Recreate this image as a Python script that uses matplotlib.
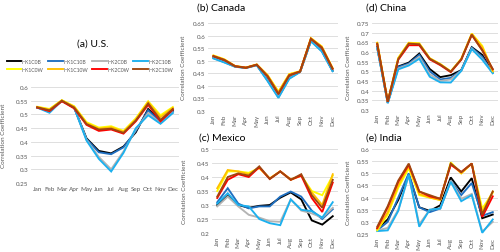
import numpy as np
import matplotlib.pyplot as plt
from matplotlib.ticker import FuncFormatter

plt.rcParams['font.family'] = ['Lato', 'DejaVu Sans']

months = ['Jan', 'Feb', 'Mar', 'Apr', 'May', 'Jun', 'Jul', 'Aug', 'Sep', 'Oct', 'Nov', 'Dec']
names = ['HK1C0B', 'HK1C10B', 'HK2C0B', 'HK2C10B', 'HK1C0W', 'HK1C10W', 'HK2C0W', 'HK2C10W']
colors = ['#000000', '#1F6FC0', '#B4B4B4', '#1CB0EE', '#FFFF00', '#FFC000', '#FF0000', '#A0460F']

# (a) U.S.
us = [
    [0.525, 0.515, 0.55, 0.525, 0.413, 0.367, 0.358, 0.383, 0.435, 0.52, 0.475, 0.513],
    [0.525, 0.512, 0.55, 0.525, 0.41, 0.362, 0.355, 0.38, 0.44, 0.515, 0.472, 0.51],
    [0.525, 0.51, 0.55, 0.525, 0.408, 0.345, 0.3, 0.365, 0.445, 0.505, 0.468, 0.507],
    [0.525, 0.506, 0.55, 0.525, 0.405, 0.338, 0.292, 0.36, 0.45, 0.497, 0.466, 0.505],
    [0.528, 0.52, 0.552, 0.53, 0.472, 0.452, 0.457, 0.44, 0.486, 0.548, 0.497, 0.527],
    [0.527, 0.518, 0.551, 0.528, 0.468, 0.448, 0.453, 0.437, 0.482, 0.545, 0.49, 0.524],
    [0.525, 0.512, 0.548, 0.522, 0.462, 0.44, 0.445, 0.43, 0.475, 0.535, 0.475, 0.518],
    [0.526, 0.515, 0.55, 0.525, 0.465, 0.445, 0.448, 0.433, 0.478, 0.54, 0.48, 0.52],
]

# (b) Canada
canada = [
    [0.512, 0.496, 0.477, 0.472, 0.483, 0.423, 0.357, 0.432, 0.456, 0.58, 0.54, 0.46],
    [0.511, 0.495, 0.477, 0.472, 0.483, 0.422, 0.356, 0.431, 0.456, 0.58, 0.54, 0.46],
    [0.51, 0.494, 0.476, 0.471, 0.482, 0.42, 0.354, 0.43, 0.455, 0.578, 0.538, 0.459],
    [0.509, 0.493, 0.476, 0.471, 0.482, 0.419, 0.352, 0.428, 0.455, 0.577, 0.537, 0.458],
    [0.521, 0.506, 0.479, 0.473, 0.485, 0.443, 0.377, 0.447, 0.458, 0.59, 0.557, 0.471],
    [0.52, 0.505, 0.479, 0.473, 0.485, 0.442, 0.375, 0.446, 0.458, 0.589, 0.556, 0.47],
    [0.518, 0.503, 0.478, 0.472, 0.484, 0.438, 0.368, 0.442, 0.457, 0.587, 0.552, 0.468],
    [0.518, 0.503, 0.478, 0.472, 0.484, 0.438, 0.368, 0.442, 0.457, 0.587, 0.552, 0.468],
]

# (d) China
china = [
    [0.625, 0.338, 0.525, 0.545, 0.592, 0.512, 0.47, 0.48, 0.506, 0.625, 0.585, 0.495],
    [0.624, 0.337, 0.522, 0.54, 0.585, 0.5, 0.458, 0.466, 0.505, 0.622, 0.575, 0.493],
    [0.622, 0.336, 0.515, 0.535, 0.575, 0.485, 0.45, 0.458, 0.503, 0.618, 0.565, 0.492],
    [0.62, 0.335, 0.51, 0.53, 0.565, 0.472, 0.443, 0.442, 0.502, 0.615, 0.56, 0.49],
    [0.648, 0.345, 0.57, 0.648, 0.645, 0.568, 0.538, 0.5, 0.565, 0.695, 0.632, 0.5],
    [0.647, 0.344, 0.568, 0.647, 0.643, 0.567, 0.537, 0.499, 0.563, 0.694, 0.625, 0.503],
    [0.64, 0.342, 0.56, 0.635, 0.635, 0.562, 0.532, 0.496, 0.56, 0.688, 0.61, 0.51],
    [0.643, 0.343, 0.563, 0.643, 0.64, 0.565, 0.535, 0.498, 0.562, 0.69, 0.608, 0.512],
]

# (c) Mexico
mexico = [
    [0.3, 0.333, 0.3, 0.29, 0.297, 0.3, 0.326, 0.345, 0.32, 0.245, 0.23, 0.26],
    [0.31, 0.36, 0.305, 0.288, 0.295, 0.295, 0.33, 0.348, 0.33, 0.28, 0.25, 0.285],
    [0.295, 0.33, 0.295, 0.265, 0.255, 0.242, 0.24, 0.32, 0.28, 0.27, 0.255, 0.29],
    [0.305, 0.342, 0.3, 0.295, 0.25, 0.235, 0.228, 0.32, 0.283, 0.278, 0.255, 0.31],
    [0.35, 0.42, 0.42, 0.415, 0.432, 0.395, 0.42, 0.39, 0.405, 0.35, 0.335, 0.405],
    [0.36, 0.425, 0.42, 0.41, 0.433, 0.395, 0.42, 0.392, 0.405, 0.345, 0.3, 0.41],
    [0.325, 0.39, 0.41, 0.4, 0.435, 0.393, 0.42, 0.39, 0.405, 0.325, 0.275, 0.38],
    [0.33, 0.4, 0.413, 0.405, 0.438, 0.393, 0.42, 0.39, 0.41, 0.335, 0.29, 0.39],
]

# (e) India
india = [
    [0.272, 0.31, 0.39, 0.495, 0.36, 0.345, 0.368, 0.483, 0.425, 0.48, 0.315, 0.33],
    [0.265, 0.3, 0.4, 0.5, 0.36, 0.34, 0.355, 0.47, 0.41, 0.46, 0.325, 0.34],
    [0.265, 0.275, 0.35, 0.49, 0.29, 0.35, 0.355, 0.47, 0.395, 0.415, 0.26, 0.3],
    [0.262, 0.265, 0.345, 0.495, 0.28, 0.35, 0.355, 0.465, 0.385, 0.41, 0.255, 0.31],
    [0.265, 0.33, 0.44, 0.52, 0.41, 0.4, 0.39, 0.545, 0.5, 0.54, 0.355, 0.42],
    [0.27, 0.34, 0.45, 0.53, 0.415, 0.4, 0.39, 0.54, 0.5, 0.54, 0.34, 0.425],
    [0.275, 0.36, 0.465, 0.535, 0.425, 0.405, 0.395, 0.535, 0.505, 0.54, 0.32, 0.405],
    [0.28, 0.365, 0.47, 0.54, 0.425, 0.41, 0.395, 0.54, 0.505, 0.54, 0.33, 0.425],
]

W, H = 500, 253
fig = plt.figure(figsize=(5, 2.53), dpi=100)


def px_axes(x0, x1, ytop, ybot):
    return fig.add_axes([x0 / W, 1 - ybot / H, (x1 - x0) / W, (ybot - ytop) / H])


def draw(ax, data, ylo, yhi, rot, ylab_x):
    x = np.arange(len(months))
    for vals, name, c in zip(data, names, colors):
        ax.plot(x, vals, color=c, lw=1.35, label=name, solid_joinstyle='miter')
    ax.set_xlim(-0.5, 11.5)
    ax.set_ylim(ylo, yhi)
    ax.set_yticks(np.round(np.arange(ylo, yhi + 0.001, 0.05), 2))
    ax.yaxis.set_major_formatter(FuncFormatter(lambda v, p: f'{v:g}'))
    ax.set_xticks(x)
    ax.set_xticklabels(months, rotation=rot)
    ax.grid(axis='y', color='#d9d9d9', lw=0.6)
    ax.set_axisbelow(True)
    for s in ax.spines.values():
        s.set_visible(False)
    ax.tick_params(length=0, labelsize=4.5, labelcolor='#595959', pad=2)
    ax.set_ylabel('Correlation Coefficient', fontsize=4.6, color='#595959')
    ax.yaxis.set_label_coords(ylab_x, 0.5)


ax_a = px_axes(31, 179, 88, 184)
draw(ax_a, us, 0.25, 0.6, 0, -0.17)
ax_b = px_axes(208, 338, 24, 112)
draw(ax_b, canada, 0.3, 0.65, 90, -0.17)
ax_d = px_axes(372, 498, 24, 111)
draw(ax_d, china, 0.3, 0.75, 90, -0.17)
ax_c = px_axes(212, 338, 150, 234)
draw(ax_c, mexico, 0.2, 0.5, 90, -0.2)
ax_e = px_axes(372, 498, 150, 235)
draw(ax_e, india, 0.25, 0.6, 90, -0.17)

fig.text(93 / W, 1 - 44 / H, '(a) U.S.', ha='center', va='center', fontsize=7.5)
fig.text(197 / W, 1 - 8 / H, '(b) Canada', ha='left', va='center', fontsize=7.5)
fig.text(366 / W, 1 - 8 / H, '(d) China', ha='left', va='center', fontsize=7.5)
fig.text(199 / W, 1 - 138 / H, '(c) Mexico', ha='left', va='center', fontsize=7.5)
fig.text(366 / W, 1 - 138 / H, '(e) India', ha='left', va='center', fontsize=7.5)

# legend fills column-wise, so reorder to get B series on the first row
handles, labels = ax_a.get_legend_handles_labels()
order = [0, 4, 1, 5, 2, 6, 3, 7]
fig.legend([handles[i] for i in order], [labels[i] for i in order], ncol=4,
           loc='upper left', bbox_to_anchor=(4 / W, 1 - 57 / H),
           frameon=False, fontsize=3.7, handlelength=2.9, handletextpad=0.1,
           columnspacing=0.8, labelspacing=0.65, borderpad=0, labelcolor='#595959')

fig.savefig('out.png', dpi=100)
